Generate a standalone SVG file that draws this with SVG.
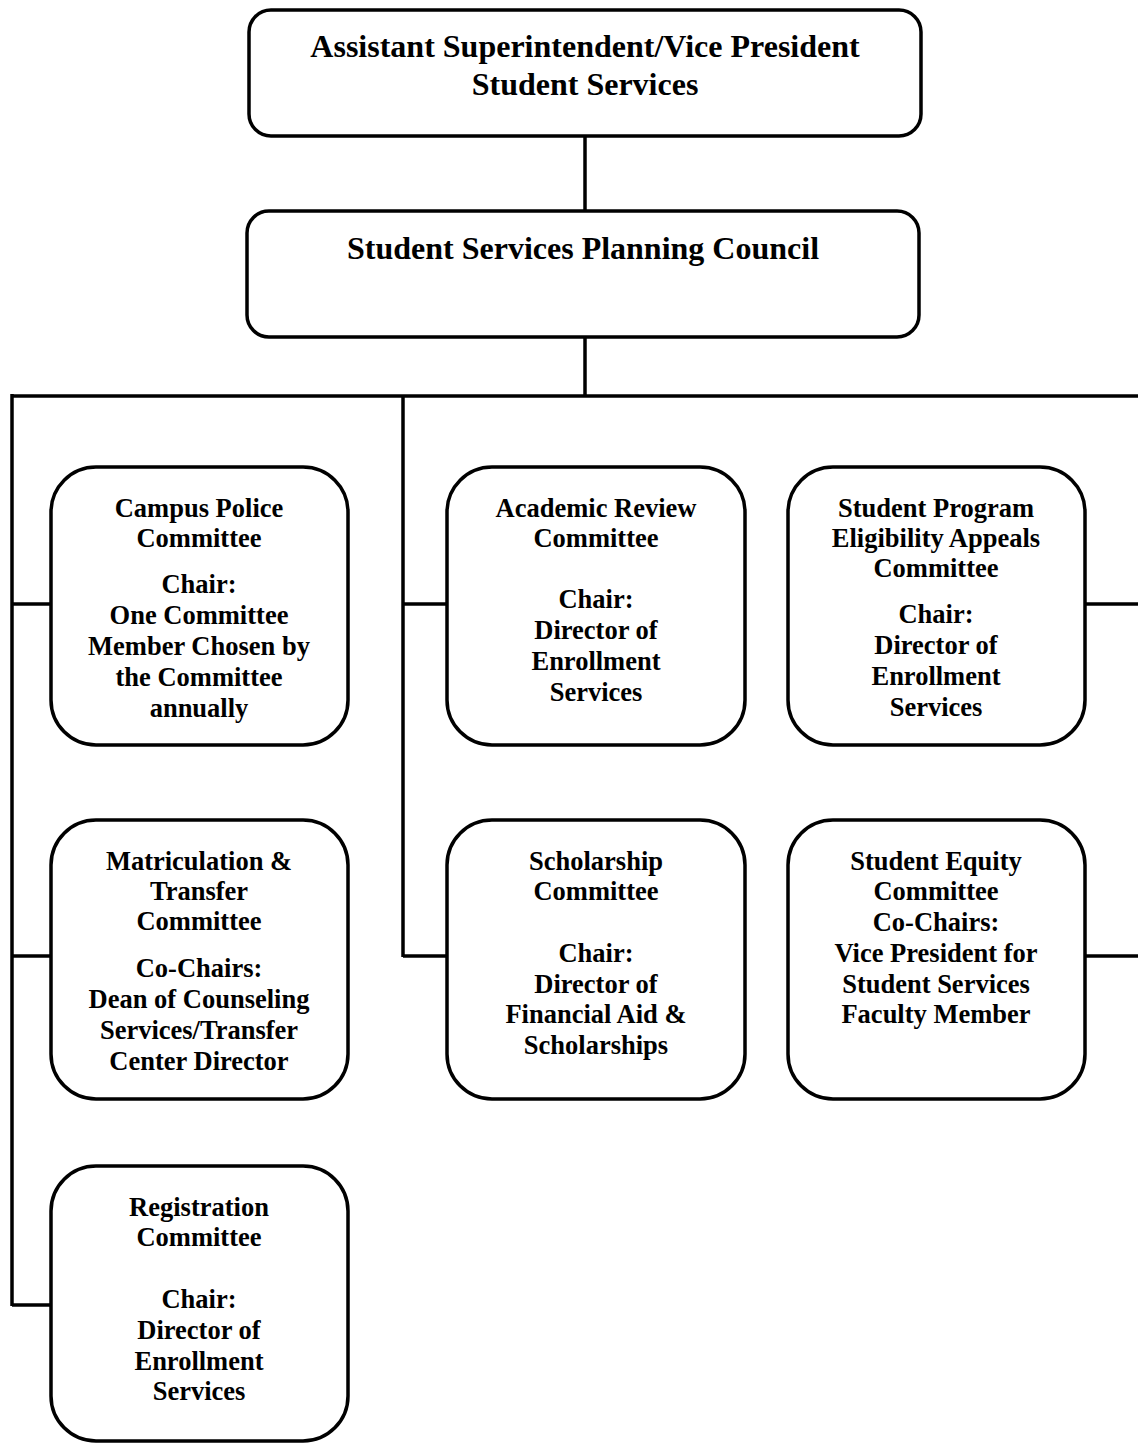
<svg xmlns="http://www.w3.org/2000/svg" width="1138" height="1444" viewBox="0 0 1138 1444">
<style>
.box{fill:#fff;stroke:#000;stroke-width:3.5}
.ln{fill:none;stroke:#000;stroke-width:3.5}
text{font-family:"Liberation Serif","Times New Roman",serif;font-weight:bold;fill:#000;text-anchor:middle}
.t{font-size:32px}
.c{font-size:26.5px}
</style>
<rect width="1138" height="1444" fill="#fff"/>
<g id="connectors">
<line class="ln" x1="585" y1="136" x2="585" y2="211"/>
<line class="ln" x1="585" y1="337" x2="585" y2="396"/>
<line class="ln" x1="12" y1="396" x2="1138" y2="396"/>
<line class="ln" x1="12" y1="394" x2="12" y2="1306"/>
<line class="ln" x1="12" y1="604" x2="51" y2="604"/>
<line class="ln" x1="12" y1="956" x2="51" y2="956"/>
<line class="ln" x1="12" y1="1305" x2="51" y2="1305"/>
<line class="ln" x1="403" y1="396" x2="403" y2="957"/>
<line class="ln" x1="403" y1="604" x2="447" y2="604"/>
<line class="ln" x1="403" y1="956" x2="447" y2="956"/>
<line class="ln" x1="1085" y1="604" x2="1138" y2="604"/>
<line class="ln" x1="1085" y1="956" x2="1138" y2="956"/>
</g>
<g id="vp">
<rect class="box" x="249" y="10" width="672" height="126" rx="22"/>
<text class="t" x="585" y="57">Assistant Superintendent/Vice President</text>
<text class="t" x="585" y="95">Student Services</text>
</g>
<g id="council">
<rect class="box" x="247" y="211" width="672" height="126" rx="22"/>
<text class="t" x="583" y="259">Student Services Planning Council</text>
</g>
<g id="campus-police">
<rect class="box" x="51" y="467" width="297" height="278" rx="45"/>
<text class="c" x="199" y="517">Campus Police</text>
<text class="c" x="199" y="547">Committee</text>
<text class="c" x="199" y="593">Chair:</text>
<text class="c" x="199" y="624">One Committee</text>
<text class="c" x="199" y="655">Member Chosen by</text>
<text class="c" x="199" y="686">the Committee</text>
<text class="c" x="199" y="717">annually</text>
</g>
<g id="academic-review">
<rect class="box" x="447" y="467" width="298" height="278" rx="45"/>
<text class="c" x="596" y="517">Academic Review</text>
<text class="c" x="596" y="547">Committee</text>
<text class="c" x="596" y="608">Chair:</text>
<text class="c" x="596" y="639">Director of</text>
<text class="c" x="596" y="670">Enrollment</text>
<text class="c" x="596" y="701">Services</text>
</g>
<g id="student-program">
<rect class="box" x="788" y="467" width="297" height="278" rx="45"/>
<text class="c" x="936" y="517">Student Program</text>
<text class="c" x="936" y="547">Eligibility Appeals</text>
<text class="c" x="936" y="577">Committee</text>
<text class="c" x="936" y="623">Chair:</text>
<text class="c" x="936" y="654">Director of</text>
<text class="c" x="936" y="685">Enrollment</text>
<text class="c" x="936" y="716">Services</text>
</g>
<g id="matriculation">
<rect class="box" x="51" y="820" width="297" height="279" rx="45"/>
<text class="c" x="199" y="870">Matriculation &amp;</text>
<text class="c" x="199" y="900">Transfer</text>
<text class="c" x="199" y="930">Committee</text>
<text class="c" x="199" y="977">Co-Chairs:</text>
<text class="c" x="199" y="1008">Dean of Counseling</text>
<text class="c" x="199" y="1039">Services/Transfer</text>
<text class="c" x="199" y="1070">Center Director</text>
</g>
<g id="scholarship">
<rect class="box" x="447" y="820" width="298" height="279" rx="45"/>
<text class="c" x="596" y="870">Scholarship</text>
<text class="c" x="596" y="900">Committee</text>
<text class="c" x="596" y="962">Chair:</text>
<text class="c" x="596" y="993">Director of</text>
<text class="c" x="596" y="1023">Financial Aid &amp;</text>
<text class="c" x="596" y="1054">Scholarships</text>
</g>
<g id="student-equity">
<rect class="box" x="788" y="820" width="297" height="279" rx="45"/>
<text class="c" x="936" y="870">Student Equity</text>
<text class="c" x="936" y="900">Committee</text>
<text class="c" x="936" y="931">Co-Chairs:</text>
<text class="c" x="936" y="962">Vice President for</text>
<text class="c" x="936" y="993">Student Services</text>
<text class="c" x="936" y="1023">Faculty Member</text>
</g>
<g id="registration">
<rect class="box" x="51" y="1166" width="297" height="275" rx="45"/>
<text class="c" x="199" y="1216">Registration</text>
<text class="c" x="199" y="1246">Committee</text>
<text class="c" x="199" y="1308">Chair:</text>
<text class="c" x="199" y="1339">Director of</text>
<text class="c" x="199" y="1370">Enrollment</text>
<text class="c" x="199" y="1400">Services</text>
</g>
</svg>
